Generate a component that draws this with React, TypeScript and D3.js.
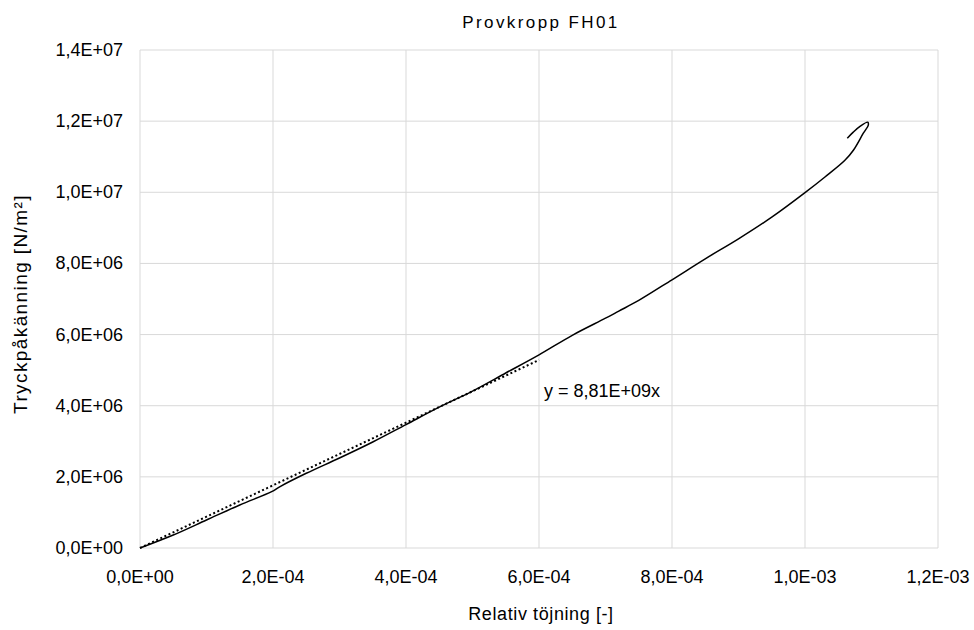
import React, { useEffect, useRef } from "react";
import * as d3 from "d3";

const strain = [
  0, 5.0e-5, 1.0e-4, 1.5e-4, 1.98e-4, 2.1e-4, 2.5e-4, 3.0e-4, 3.5e-4,
  4.0e-4, 4.5e-4, 5.0e-4, 5.5e-4, 6.0e-4, 6.5e-4, 7.0e-4, 7.2e-4,
  7.5e-4, 8.0e-4, 8.5e-4, 9.0e-4, 9.5e-4, 1.0e-3, 1.03e-3, 1.06e-3,
  1.073e-3, 1.0877e-3, 1.0952e-3, 1.0943e-3, 1.0827e-3, 1.0726e-3, 1.0636e-3,
];
const stress = [
  0, 0.365e6, 0.787e6, 1.209e6, 1.583e6, 1.72e6, 2.1e6, 2.53e6, 2.98e6,
  3.47e6, 3.96e6, 4.41e6, 4.92e6, 5.43e6, 5.98e6, 6.46e6, 6.66e6,
  6.96e6, 7.54e6, 8.13e6, 8.69e6, 9.3e6, 9.99e6, 10.43e6, 10.9e6,
  11.19e6, 11.66e6, 11.89e6, 11.97e6, 11.85e6, 11.69e6, 11.52e6,
];

// linear trendline through origin
const slope = 8.81e9;
const trendRange = [0, 6.0e-4];

const xTicks = [0, 2e-4, 4e-4, 6e-4, 8e-4, 1.0e-3, 1.2e-3];
const yTicks = [0, 2e6, 4e6, 6e6, 8e6, 1.0e7, 1.2e7, 1.4e7];

const fmt = (v: number) => {
  const s = v.toExponential(1); // e.g. "1.4e+7"
  const [m, e] = s.split("e");
  const sign = e[0] === "-" ? "-" : "+";
  const ex = Math.abs(parseInt(e, 10)).toString().padStart(2, "0");
  return m.replace(".", ",") + "E" + sign + ex;
};

const FONT = "'Liberation Sans', Arial, sans-serif";

export default function App() {
  const ref = useRef<SVGSVGElement>(null);

  useEffect(() => {
    const svg = d3.select(ref.current);
    svg.selectAll("*").remove();

    const left = 140, right = 938, top = 50, bottom = 548;
    const x = d3.scaleLinear().domain([0, 1.2e-3]).range([left, right]);
    const y = d3.scaleLinear().domain([0, 1.4e7]).range([bottom, top]);

    // gridlines
    svg.append("g").selectAll("line").data(yTicks).join("line")
      .attr("x1", left).attr("x2", right)
      .attr("y1", d => y(d)).attr("y2", d => y(d))
      .attr("stroke", "#d9d9d9").attr("stroke-width", 1);
    svg.append("g").selectAll("line").data(xTicks).join("line")
      .attr("x1", d => x(d)).attr("x2", d => x(d))
      .attr("y1", top).attr("y2", bottom)
      .attr("stroke", "#d9d9d9").attr("stroke-width", 1);

    // tick labels
    svg.append("g").selectAll("text").data(yTicks).join("text")
      .attr("x", left - 17).attr("y", d => y(d) + 6)
      .attr("text-anchor", "end")
      .attr("font-family", FONT).attr("font-size", 18).attr("fill", "#000")
      .text(d => fmt(d));
    svg.append("g").selectAll("text").data(xTicks).join("text")
      .attr("x", d => x(d)).attr("y", bottom + 35)
      .attr("text-anchor", "middle")
      .attr("font-family", FONT).attr("font-size", 18).attr("fill", "#000")
      .text(d => fmt(d));

    // trendline (dotted)
    const line = d3.line<[number, number]>().x(d => x(d[0])).y(d => y(d[1]));
    svg.append("path")
      .attr("d", line(trendRange.map(v => [v, v * slope] as [number, number])))
      .attr("fill", "none").attr("stroke", "#000")
      .attr("stroke-width", 2).attr("stroke-dasharray", "2,2.5");

    // measured curve
    const pts = strain.map((v, i) => [v, stress[i]] as [number, number]);
    svg.append("path")
      .attr("d", line.curve(d3.curveCatmullRom.alpha(0.5))(pts))
      .attr("fill", "none").attr("stroke", "#000").attr("stroke-width", 1.5);

    // equation label
    svg.append("text")
      .attr("x", 544).attr("y", 397)
      .attr("font-family", FONT).attr("font-size", 18).attr("fill", "#000")
      .text("y = 8,81E+09x");

    // title
    svg.append("text")
      .attr("x", 541).attr("y", 28)
      .attr("text-anchor", "middle")
      .attr("font-family", FONT).attr("font-size", 17).attr("letter-spacing", 2.4)
      .attr("fill", "#000")
      .text("Provkropp FH01");

    // axis titles
    svg.append("text")
      .attr("x", 541).attr("y", 620)
      .attr("text-anchor", "middle")
      .attr("font-family", FONT).attr("font-size", 18).attr("letter-spacing", 0.6)
      .attr("fill", "#000")
      .text("Relativ töjning [-]");
    svg.append("text")
      .attr("transform", `translate(27, 304) rotate(-90)`)
      .attr("text-anchor", "middle")
      .attr("font-family", FONT).attr("font-size", 19).attr("letter-spacing", 1.4)
      .attr("fill", "#000")
      .text("Tryckpåkänning [N/m²]");
  }, []);

  return (
    <div style={{ position: "absolute", left: 0, top: 0 }}>
      <svg ref={ref} width={974} height={630} style={{ display: "block", background: "#fff" }} />
    </div>
  );
}
